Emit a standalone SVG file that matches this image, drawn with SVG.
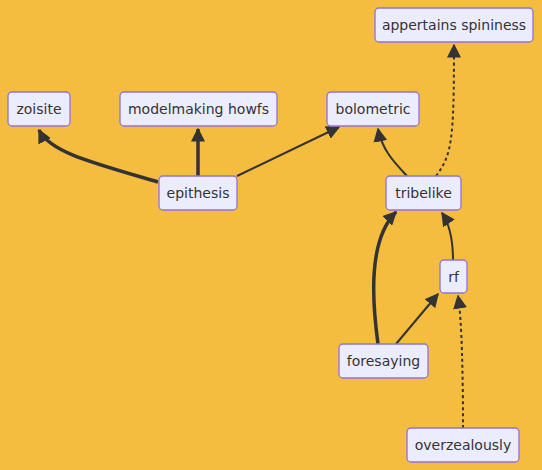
<svg xmlns="http://www.w3.org/2000/svg" width="542" height="470" viewBox="0 0 542 470">
<style>
.node rect{fill:#ECECFF;stroke:#9370DB;stroke-width:1.3}
.node text{font-family:"DejaVu Sans",Verdana,sans-serif;font-size:14px;fill:#333;text-anchor:middle;dominant-baseline:central}
.e{fill:none;stroke:#333;stroke-width:2}
.thick{stroke-width:3.5}
.dot{stroke-dasharray:3 3}
</style>
<defs>
<marker id="arr" markerUnits="userSpaceOnUse" markerWidth="14" markerHeight="14" viewBox="0 0 10 10" refX="9" refY="5" orient="auto">
<path d="M0,0 L10,5 L0,10 z" fill="#333"/>
</marker>
</defs>
<rect width="542" height="470" fill="#F5BD3F"/>
<g id="connectors">
<path class="e thick" d="M158,182 C90,162 50,152 39,130" marker-end="url(#arr)"/>
<path class="e thick" d="M198,176 L198,129" marker-end="url(#arr)"/>
<path class="e" d="M237,176 L339,127" marker-end="url(#arr)"/>
<path class="e" d="M407,176 C395,163 382,150 378,129" marker-end="url(#arr)"/>
<path class="e dot" d="M436,176 C452,155 454,140 454,45" marker-end="url(#arr)"/>
<path class="e thick" d="M378,344 C372,300 368,240 396,212" marker-end="url(#arr)"/>
<path class="e" d="M396,344 L438,294" marker-end="url(#arr)"/>
<path class="e" d="M453,260 C453,240 450,225 442,213" marker-end="url(#arr)"/>
<path class="e dot" d="M463,428 C463,380 462,320 458,296" marker-end="url(#arr)"/>
</g>
<g id="n-appertains" class="node"><rect x="375" y="8" width="158" height="34" rx="4"/><text x="454" y="25">appertains spininess</text></g>
<g id="n-zoisite" class="node"><rect x="8" y="92" width="62" height="34" rx="4"/><text x="39" y="109">zoisite</text></g>
<g id="n-modelmaking" class="node"><rect x="120" y="92" width="157" height="34" rx="4"/><text x="198.5" y="109">modelmaking howfs</text></g>
<g id="n-bolometric" class="node"><rect x="327" y="92" width="92" height="34" rx="4"/><text x="373" y="109">bolometric</text></g>
<g id="n-epithesis" class="node"><rect x="159" y="176" width="78" height="34" rx="4"/><text x="198" y="193">epithesis</text></g>
<g id="n-tribelike" class="node"><rect x="386" y="176" width="75" height="34" rx="4"/><text x="423.5" y="193">tribelike</text></g>
<g id="n-rf" class="node"><rect x="440" y="260" width="27" height="33" rx="4"/><text x="453.5" y="277">rf</text></g>
<g id="n-foresaying" class="node"><rect x="339" y="344" width="89" height="34" rx="4"/><text x="383.5" y="361">foresaying</text></g>
<g id="n-overzealously" class="node"><rect x="407" y="428" width="112" height="34" rx="4"/><text x="463" y="445">overzealously</text></g>
</svg>
